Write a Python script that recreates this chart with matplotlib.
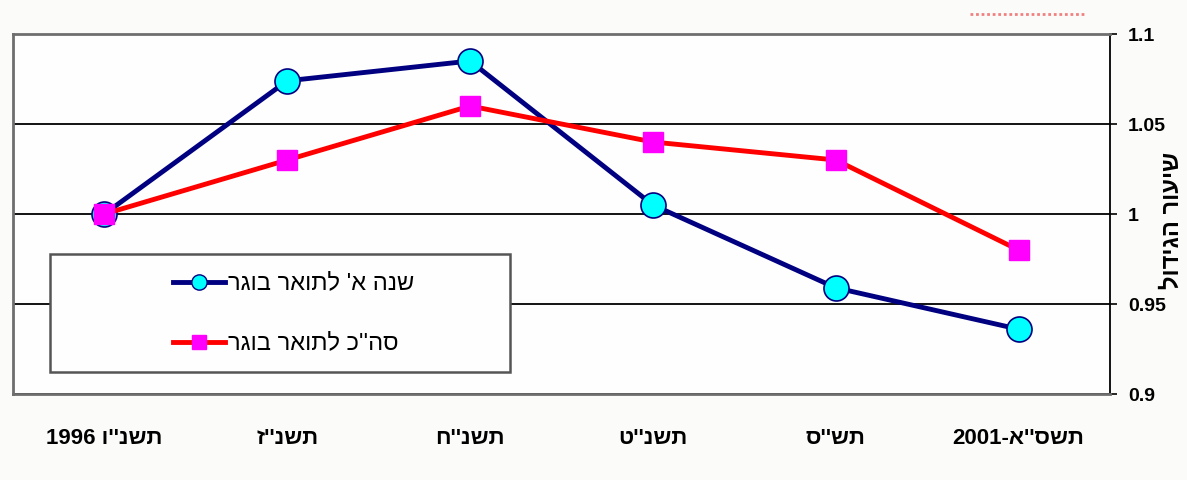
import matplotlib
matplotlib.use("Agg")
import matplotlib.pyplot as plt
from matplotlib.lines import Line2D
from matplotlib.patches import Rectangle

# Hebrew strings are kept in visual (left-to-right) order, since matplotlib has no bidi
categories = ["1996 ו''נשת", "ז''נשת", "ח''נשת", "ט''נשת", "ס''שת", "2001-א''סשת"]
first_year = [1.0, 1.074, 1.085, 1.005, 0.959, 0.936]
total_ba = [1.0, 1.03, 1.06, 1.04, 1.03, 0.98]
label_first = "רגוב ראותל 'א הנש"
label_total = "רגוב ראותל כ''הס"
y_title = "לודיגה רועיש"
y_ticks = [0.9, 0.95, 1.0, 1.05, 1.1]
y_ticklabels = ["0.9", "0.95", "1", "1.05", "1.1"]

plt.rcParams['font.family'] = ['Liberation Sans', 'DejaVu Sans']

W, H = 1187, 481
fig = plt.figure(figsize=(W / 100, H / 100), dpi=100, facecolor='#fbfcfa')
ax = fig.add_axes([13 / W, 1 - 395 / H, (1110 - 13) / W, 360 / H])
ax.set_facecolor('#fdfefd')

x = list(range(len(categories)))
ax.plot(x, first_year, color='#000080', lw=3.5, marker='o', ms=18,
        mfc='#00ffff', mec='#000080', mew=1.2, zorder=3)
ax.plot(x, total_ba, color='#ff0000', lw=3.5, marker='s', ms=15,
        mfc='#ff00ff', mec='#ff00ff', zorder=4)

ax.set_xlim(-0.5, len(categories) - 0.5)
ax.set_ylim(0.9, 1.1)
ax.set_xticks(x)
ax.set_xticklabels(categories, fontsize=16, fontweight='bold')
ax.tick_params(axis='x', length=0, pad=24)

ax.yaxis.tick_right()
ax.set_yticks(y_ticks)
ax.set_yticklabels(y_ticklabels, fontsize=14, fontweight='bold')
ax.tick_params(axis='y', direction='out', length=5, width=1.2, pad=8, colors='black')
ax.grid(axis='y', color='black', lw=1.3, zorder=1)
ax.set_axisbelow(True)

for side in ['top', 'left', 'bottom']:
    ax.spines[side].set_color('#6e6e6e')
    ax.spines[side].set_linewidth(2)
ax.spines['right'].set_color('black')
ax.spines['right'].set_linewidth(1.3)

fig.text(1172 / W, 1 - 220 / H, y_title, rotation=90, fontsize=17,
         fontweight='bold', ha='center', va='center')

# legend box drawn by hand
box = Rectangle((50 / W, 1 - 373 / H), (510 - 50) / W, (373 - 255) / H,
                transform=fig.transFigure, facecolor='#fdfefd',
                edgecolor='#555555', lw=1.8, zorder=5)
fig.add_artist(box)
entries = [
    (283, label_first, dict(color='#000080', marker='o', ms=11, mfc='#00ffff', mec='#000080')),
    (343, label_total, dict(color='#ff0000', marker='s', ms=10, mfc='#ff00ff', mec='#ff00ff')),
]
for ypix, text, style in entries:
    yy = 1 - ypix / H
    fig.add_artist(Line2D([173 / W, 225 / W], [yy, yy], lw=3.5,
                          transform=fig.transFigure, zorder=6, **style,
                          markevery=[]))
    fig.add_artist(Line2D([199 / W], [yy], lw=0, transform=fig.transFigure,
                          zorder=7, **style))
    fig.text(228 / W, yy, text, fontsize=17, ha='left', va='center', zorder=7)

# faint red squiggle at the top right of the original image
fig.add_artist(Line2D([970 / W, 1085 / W], [1 - 15 / H, 1 - 15 / H], color='#f08080',
                      lw=2, ls=(0, (1, 1)), transform=fig.transFigure))

fig.savefig("out.png", dpi=100, facecolor=fig.get_facecolor())
